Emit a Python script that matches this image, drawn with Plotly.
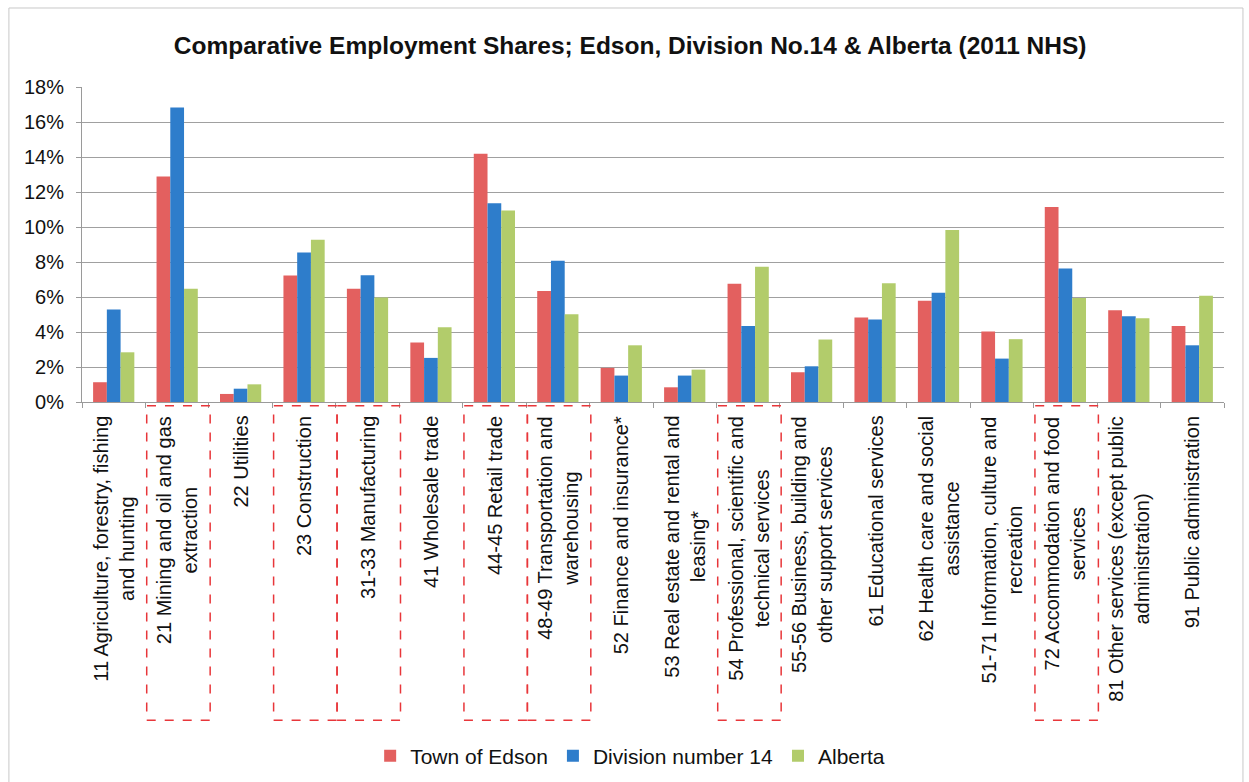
import plotly.graph_objects as go

# Industry categories (NAICS) shown along the x axis
categories = [
    "11 Agriculture, forestry, fishing<br>and hunting",
    "21 Mining and oil and gas<br>extraction",
    "22 Utilities",
    "23 Construction",
    "31-33 Manufacturing",
    "41 Wholesale trade",
    "44-45 Retail trade",
    "48-49 Transportation and<br>warehousing",
    "52 Finance and insurance*",
    "53 Real estate and rental and<br>leasing*",
    "54 Professional, scientific and<br>technical services",
    "55-56 Business, building and<br>other support services",
    "61 Educational services",
    "62 Health care and social<br>assistance",
    "51-71 Information, culture and<br>recreation",
    "72 Accommodation and food<br>services",
    "81 Other services (except public<br>administration)",
    "91 Public administration",
]

# Employment shares, percent of total labour force
town_of_edson = [1.13, 12.88, 0.46, 7.23, 6.47, 3.40, 14.18, 6.35, 1.95,
                 0.84, 6.76, 1.70, 4.83, 5.78, 4.03, 11.15, 5.25, 4.35]
division_14 = [5.29, 16.83, 0.76, 8.55, 7.25, 2.52, 11.36, 8.07, 1.51,
               1.51, 4.35, 2.04, 4.71, 6.24, 2.48, 7.63, 4.90, 3.24]
alberta = [2.84, 6.47, 1.01, 9.27, 5.97, 4.27, 10.94, 5.02, 3.24,
           1.85, 7.73, 3.57, 6.79, 9.83, 3.59, 5.95, 4.79, 6.07]

series_names = ["Town of Edson", "Division number 14", "Alberta"]
series_colors = ["#E3605F", "#2E7DCB", "#B2CC6B"]

# Industries highlighted with a dashed box around their label
highlighted = [1, 3, 4, 6, 7, 10, 15]

y_ticks = list(range(0, 19, 2))
y_tick_text = [f"{v}%" for v in y_ticks]

FONT = "Liberation Sans, Arial, sans-serif"

x_idx = list(range(len(categories)))

fig = go.Figure()
for name, vals, col in zip(series_names, [town_of_edson, division_14, alberta], series_colors):
    fig.add_trace(go.Bar(x=x_idx, y=vals, name=name, marker_color=col,
                         marker_line_width=0))

# Rotated category labels, centred line by line
annotations = []
for i, lab in enumerate(categories):
    annotations.append(dict(
        x=i, y=0, xref="x", yref="paper", text=lab, textangle=-90,
        showarrow=False, xanchor="center", yanchor="top", yshift=-12,
        align="center", font=dict(family=FONT, size=20, color="#111111"),
    ))

shapes = []
# Dashed red boxes around highlighted labels
for i in highlighted:
    shapes.append(dict(
        type="rect", xref="x", yref="paper",
        x0=i - 0.48, x1=i + 0.52, y0=-1.01, y1=-0.012,
        line=dict(color="#E8363A", width=1.5, dash="dash"),
        fillcolor="rgba(0,0,0,0)", layer="above",
    ))
# Chart-area frame
shapes.append(dict(
    type="rect", xref="paper", yref="paper",
    x0=-0.064, x1=1.0166, y0=-1.24, y1=1.2508,
    line=dict(color="#C8C8C8", width=1), fillcolor="rgba(0,0,0,0)",
))

fig.update_layout(
    width=1249, height=782,
    margin=dict(l=82, r=25, t=87, b=380, autoexpand=False),
    paper_bgcolor="white", plot_bgcolor="white",
    barmode="group", bargap=0.35, bargroupgap=0,
    font=dict(family=FONT, size=20, color="#111111"),
    title=dict(
        text="<b>Comparative Employment Shares; Edson, Division No.14 &amp; Alberta (2011 NHS)</b>",
        x=0.48, xref="paper", xanchor="center", y=1 - 45 / 782, yanchor="middle",
        font=dict(family=FONT, size=24.5, color="#111111"),
    ),
    xaxis=dict(
        type="linear", range=[-0.5, len(categories) - 0.5],
        tickvals=[i + 0.5 for i in range(-1, len(categories))],
        showticklabels=False, ticks="outside", ticklen=5,
        tickcolor="#9A9A9A", showgrid=False, zeroline=False,
        showline=True, linecolor="#9A9A9A", linewidth=1,
    ),
    yaxis=dict(
        range=[0, 18], tickvals=y_ticks, ticktext=y_tick_text,
        ticks="outside", ticklen=5, tickcolor="#9A9A9A",
        ticklabelstandoff=8,
        showgrid=True, gridcolor="#A0A0A0", gridwidth=1,
        zeroline=False, showline=True, linecolor="#9A9A9A", linewidth=1,
        tickfont=dict(family=FONT, size=20, color="#111111"),
    ),
    legend=dict(
        orientation="h", x=0.48, xanchor="center", y=-1.124, yanchor="middle",
        font=dict(family=FONT, size=21, color="#111111"),
        itemwidth=30, traceorder="normal", bgcolor="rgba(0,0,0,0)",
    ),
    annotations=annotations,
    shapes=shapes,
)

fig.write_html("out.html")
